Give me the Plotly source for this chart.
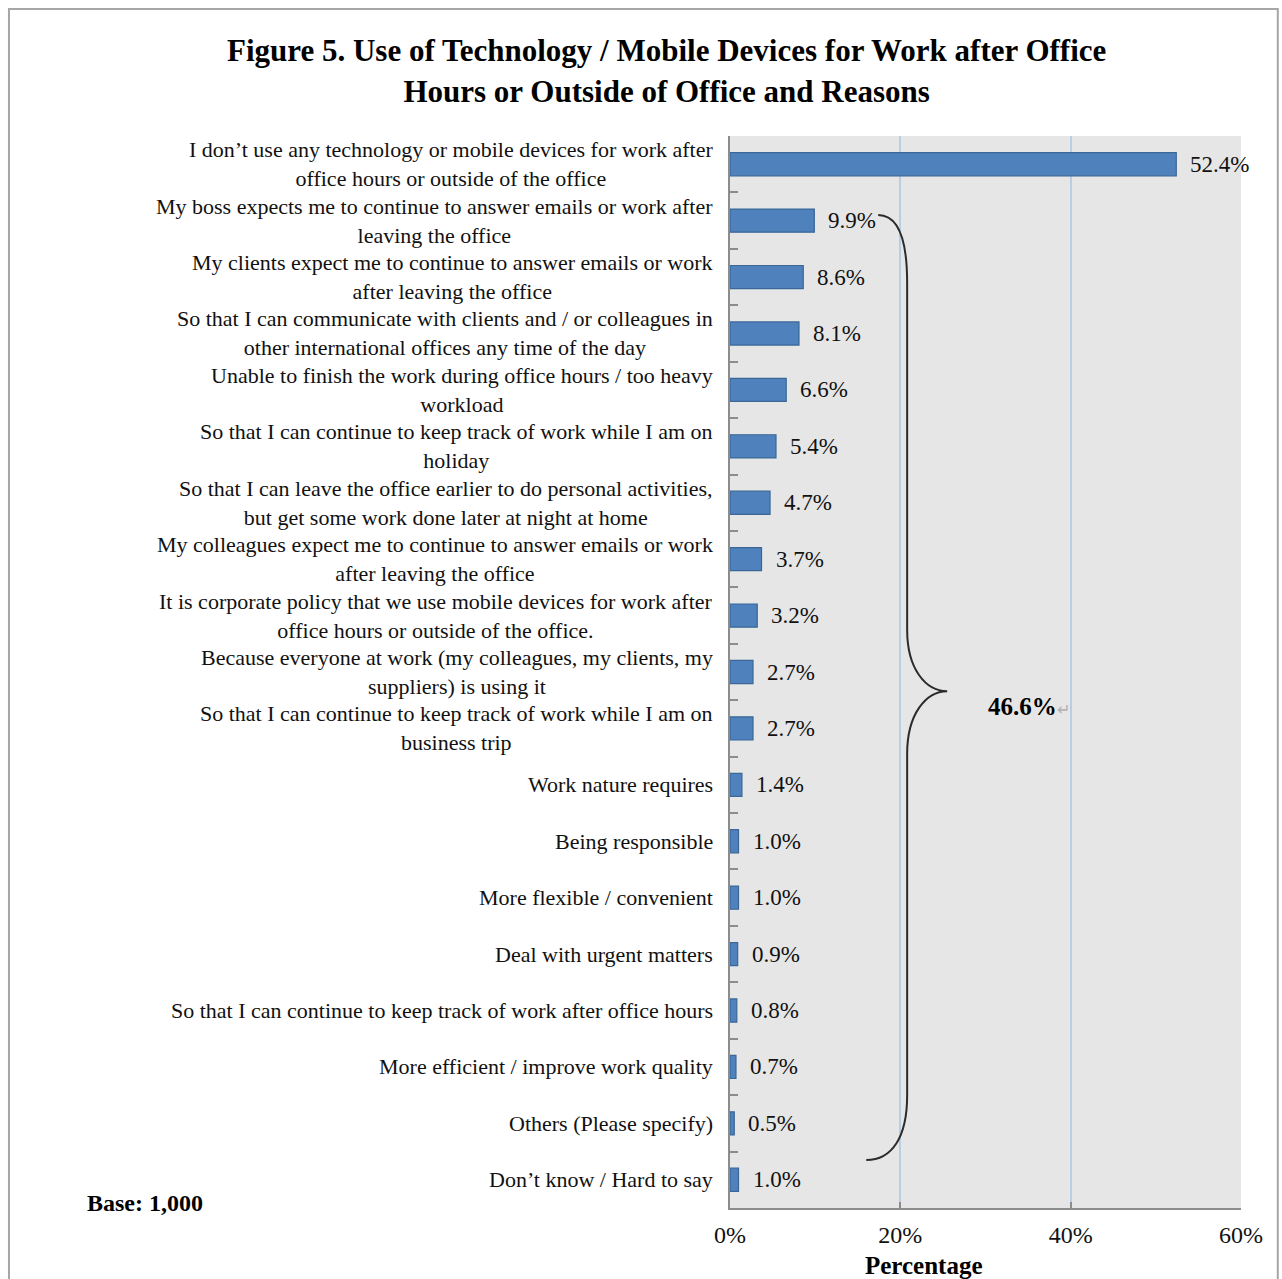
import plotly.graph_objects as go

# Survey answers (top to bottom) and their share of respondents (%)
reasons = [
    "I don’t use any technology or mobile devices for work after<br>office hours or outside of the office",
    "My boss expects me to continue to answer emails or work after<br>leaving the office",
    "My clients expect me to continue to answer emails or work<br>after leaving the office",
    "So that I can communicate with clients and / or colleagues in<br>other international offices any time of the day",
    "Unable to finish the work during office hours / too heavy<br>workload",
    "So that I can continue to keep track of work while I am on<br>holiday",
    "So that I can leave the office earlier to do personal activities,<br>but get some work done later at night at home",
    "My colleagues expect me to continue to answer emails or work<br>after leaving the office",
    "It is corporate policy that we use mobile devices for work after<br>office hours or outside of the office.",
    "Because everyone at work (my colleagues, my clients, my<br>suppliers) is using it",
    "So that I can continue to keep track of work while I am on<br>business trip",
    "Work nature requires",
    "Being responsible",
    "More flexible / convenient",
    "Deal with urgent matters",
    "So that I can continue to keep track of work after office hours",
    "More efficient / improve work quality",
    "Others (Please specify)",
    "Don’t know / Hard to say",
]
shares = [52.4, 9.9, 8.6, 8.1, 6.6, 5.4, 4.7, 3.7, 3.2, 2.7, 2.7,
          1.4, 1.0, 1.0, 0.9, 0.8, 0.7, 0.5, 1.0]
x_ticks = [0, 20, 40, 60]
x_tick_labels = ["0%", "20%", "40%", "60%"]
users_total = "46.6%"

SERIF = "Liberation Serif, Times New Roman, serif"
rows = list(range(len(reasons)))

fig = go.Figure()
fig.add_trace(go.Bar(
    x=shares, y=rows, orientation="h", width=0.41,
    marker=dict(color="#4f81bd", line=dict(color="#3a6796", width=1.2)),
    hoverinfo="skip", showlegend=False,
))

annotations = []
# category labels, each block right-aligned to the axis with centered lines
for r, txt in zip(rows, reasons):
    annotations.append(dict(
        x=0, xref="paper", y=r, yref="y", xanchor="right", yanchor="middle",
        xshift=-15, text=txt, align="center", showarrow=False,
        font=dict(family=SERIF, size=22, color="#111"),
    ))
# value labels beside the bars
for r, v in zip(rows, shares):
    annotations.append(dict(
        x=v, xref="x", y=r, yref="y", xanchor="left", yanchor="middle",
        xshift=12, text=f"{v:.1f}%", showarrow=False,
        font=dict(family=SERIF, size=23, color="#111"),
    ))
# total of all users next to the brace
annotations.append(dict(
    x=30.0, xref="x", y=9.62, yref="y", xanchor="left", yanchor="middle",
    text=f"<b>{users_total}</b><span style='color:#b0b0b0;font-size:16px'>↵</span>",
    showarrow=False, font=dict(family=SERIF, size=25, color="#000"),
))
annotations.append(dict(
    x=-1.262, xref="paper", y=0.005, yref="paper", xanchor="left", yanchor="middle",
    text="<b>Base: 1,000</b>", showarrow=False,
    font=dict(family=SERIF, size=24, color="#000"),
))
annotations.append(dict(
    x=0.38, xref="paper", y=-0.0535, yref="paper", xanchor="center", yanchor="middle",
    text="<b>Percentage</b>", showarrow=False,
    font=dict(family=SERIF, size=25, color="#000"),
))

# curly brace grouping every reason given by device users
brace = (
    "M 17.4 0.9 "
    "C 19.6 0.9 20.8 1.3 20.8 2.1 "
    "L 20.8 8.25 "
    "C 20.8 8.95 23.0 9.34 25.5 9.34 "
    "C 23.0 9.34 20.8 9.75 20.8 10.45 "
    "L 20.8 16.5 "
    "C 20.8 17.25 19.0 17.65 16.0 17.65"
)
shapes = [
    dict(type="path", xref="x", yref="y", path=brace,
         line=dict(color="#2b2b2b", width=2)),
    # outer frame of the figure
    dict(type="rect", xref="paper", yref="paper",
         x0=-1.411, x1=1.072, y0=-0.08, y1=1.1185,
         line=dict(color="#a6a6a6", width=2), fillcolor="rgba(0,0,0,0)", layer="below"),
]

fig.update_layout(
    width=1282, height=1279,
    margin=dict(l=730, r=41, t=136, b=71),
    paper_bgcolor="white", plot_bgcolor="#e6e6e6",
    title=dict(
        text="<b>Figure 5. Use of Technology / Mobile Devices for Work after Office<br>"
             "Hours or Outside of Office and Reasons</b>",
        x=0.52, xref="container", xanchor="center",
        y=0.952, yref="container", yanchor="middle",
        font=dict(family=SERIF, size=31, color="#000"),
    ),
    xaxis=dict(
        range=[0, 60], tickvals=x_ticks, ticktext=x_tick_labels,
        showgrid=True, gridcolor="#b9cde5", gridwidth=1.5,
        zeroline=False, showline=True, linecolor="#8c8c8c", linewidth=2,
        ticks="inside", ticklen=6, tickcolor="#8c8c8c", tickwidth=1.5,
        ticklabelstandoff=4,
        tickfont=dict(family=SERIF, size=24, color="#111"),
        fixedrange=True,
    ),
    yaxis=dict(
        range=[len(reasons) - 0.5, -0.5],
        tickvals=[r - 0.5 for r in rows] + [len(reasons) - 0.5],
        ticktext=[""] * (len(reasons) + 1),
        showgrid=False, zeroline=False, showline=True,
        linecolor="#8c8c8c", linewidth=2,
        ticks="inside", ticklen=8, tickcolor="#8c8c8c", tickwidth=1.5,
        fixedrange=True,
    ),
    annotations=annotations,
    shapes=shapes,
    bargap=0.59,
)

fig.write_html("out.html")
